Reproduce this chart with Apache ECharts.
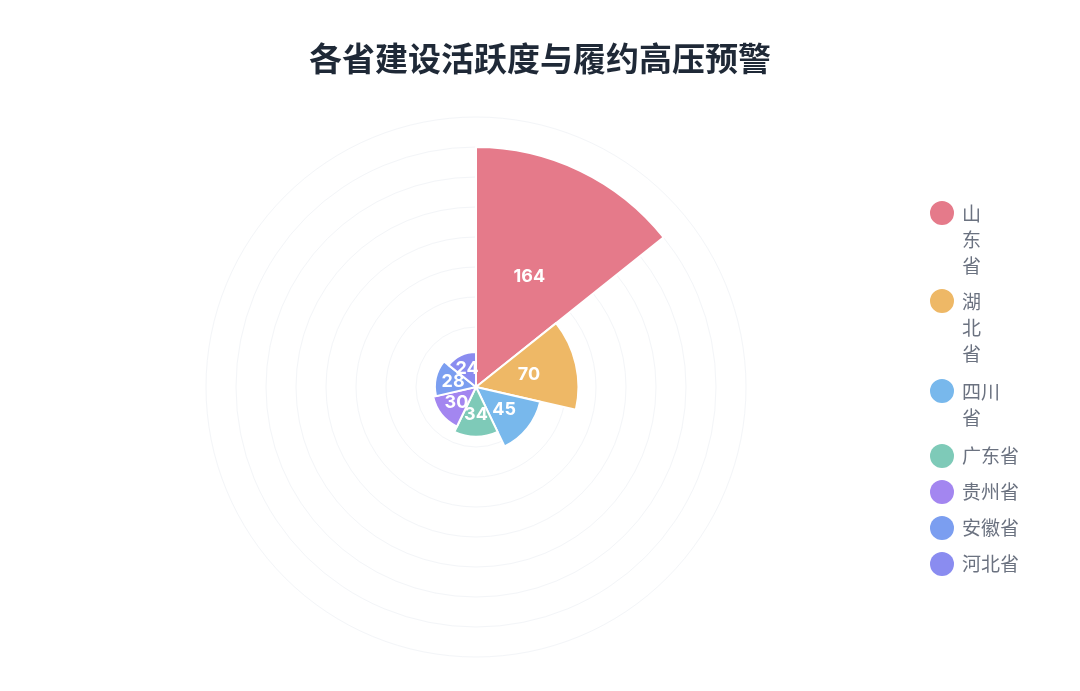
<!DOCTYPE html>
<html>
<head>
<meta charset="utf-8">
<script src="https://cdn.jsdelivr.net/npm/echarts@6/dist/echarts.min.js"></script>
<style>
html,body{margin:0;padding:0;background:#fff;}
#c{width:1080px;height:691px;}
</style>
</head>
<body>
<div id="c"></div>
<script>
const titleText = '各省建设活跃度与履约高压预警';
const provinces = ['山东省', '湖北省', '四川省', '广东省', '贵州省', '安徽省', '河北省'];
const legendLabels = ['山\n东\n省', '湖\n北\n省', '四川\n省', '广东省', '贵州省', '安徽省', '河北省'];
const values = [164, 70, 45, 34, 30, 28, 24];
const colors = ['#e57a8a', '#eeb866', '#78b8ec', '#7ecab8', '#a386f0', '#7b9ef0', '#8a8cf0'];
const ringCount = 9;

const font = '"Noto Sans CJK SC", "Noto Sans", sans-serif';
const numFont = 'Inter, "Noto Sans", sans-serif';

// icon: circle at the top of a tall box so it lines up with the first text line
function topCircle(h) {
  return 'path://M12 0A12 12 0 1 1 12 24A12 12 0 1 1 12 0Z M0 ' + h + 'L24 ' + h;
}
function makeLegend(names, lines, top) {
  const h = lines * 26;
  return {
    orient: 'vertical',
    left: 925,
    top: top,
    icon: lines > 1 ? topCircle(h) : 'circle',
    itemWidth: 24,
    itemHeight: lines > 1 ? h : 24,
    itemGap: 10,
    itemStyle: { borderWidth: 0 },
    data: names,
    formatter: function (name) { return legendLabels[provinces.indexOf(name)]; },
    textStyle: { fontSize: 19, lineHeight: 26, color: '#6b7280', fontFamily: font, padding: [0, 0, 0, 3] }
  };
}

const chart = echarts.init(document.getElementById('c'));
chart.setOption({
  backgroundColor: '#ffffff',
  title: {
    text: titleText,
    left: 'center',
    top: 37,
    textStyle: { fontSize: 33, fontWeight: 'bold', color: '#1f2937', fontFamily: font }
  },
  polar: { center: [476, 387], radius: 270 },
  angleAxis: { show: false, min: 0, max: 360 },
  radiusAxis: {
    min: 0, max: ringCount, interval: 1,
    axisLine: { show: false }, axisTick: { show: false }, axisLabel: { show: false },
    splitLine: { show: true, lineStyle: { color: '#f3f5f8', width: 1 } }
  },
  legend: [
    makeLegend(provinces.slice(0, 2), 3, 196),
    makeLegend(provinces.slice(2, 3), 2, 374),
    makeLegend(provinces.slice(3), 1, 438)
  ],
  series: [{
    type: 'pie',
    roseType: 'area',
    center: [476, 387],
    radius: [0, 240],
    startAngle: 90,
    clockwise: true,
    avoidLabelOverlap: false,
    labelLayout: { hideOverlap: false },
    itemStyle: { borderColor: '#ffffff', borderWidth: 2 },
    label: {
      show: true,
      position: 'inside',
      color: '#ffffff',
      fontSize: 18,
      fontWeight: 'bold',
      fontFamily: numFont,
      formatter: '{c}'
    },
    labelLine: { show: false },
    data: provinces.map((p, i) => ({ name: p, value: values[i], itemStyle: { color: colors[i] } }))
  }]
});
</script>
</body>
</html>
